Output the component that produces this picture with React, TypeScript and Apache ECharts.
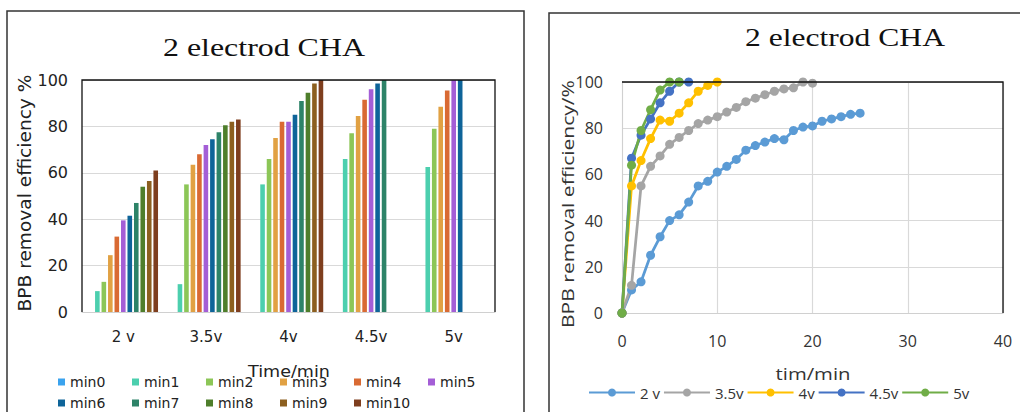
import React, { useEffect, useRef } from "react";
import * as echarts from "echarts";

// ---------- Left chart data (bar) ----------
const barCategories = ["2 v", "3.5v", "4v", "4.5v", "5v"];
const barSeriesNames = ["min0", "min1", "min2", "min3", "min4", "min5", "min6", "min7", "min8", "min9", "min10"];
const min0 = [null, null, null, null, null];
const min1 = [9, 12, 55, 66, 62.5];
const min2 = [13, 55, 66, 77, 79];
const min3 = [24.5, 63.5, 75, 84.5, 88.5];
const min4 = [32.5, 68, 82, 91.5, 95.5];
const min5 = [39.5, 72, 82, 96, 100];
const min6 = [41.5, 74.5, 85, 98.5, 100];
const min7 = [47, 77.5, 91, 100, null];
const min8 = [54, 80.5, 94.5, null, null];
const min9 = [56.5, 82, 98.5, null, null];
const min10 = [61, 83, 100, null, null];
const barValues = [min0, min1, min2, min3, min4, min5, min6, min7, min8, min9, min10];
const barColors = ["#3AA3EE", "#4CCFAE", "#8CC657", "#E1A143", "#D96A33", "#A45ED6", "#0E6499", "#2D8368", "#4E7E2B", "#8C5F1F", "#7E3E1E"];
const barYTicks = { min: 0, max: 100, interval: 20 };

// ---------- Right chart data (line) ----------
const lineNames = ["2 v", "3.5v", "4v", "4.5v", "5v"];
const lineColors = ["#5B9BD5", "#A5A5A5", "#FFC000", "#4472C4", "#70AD47"];
const time2v = [0, 1, 2, 3, 4, 5, 6, 7, 8, 9, 10, 11, 12, 13, 14, 15, 16, 17, 18, 19, 20, 21, 22, 23, 24, 25];
const eff2v = [0, 10, 13.5, 25, 33, 40, 42.5, 48, 55, 57, 61, 63.5, 66.5, 70.5, 72.5, 74, 75.5, 75, 79, 80.5, 81, 83, 84, 85, 86, 86.5];
const time35v = [0, 1, 2, 3, 4, 5, 6, 7, 8, 9, 10, 11, 12, 13, 14, 15, 16, 17, 18, 19, 20];
const eff35v = [0, 12, 55, 63.5, 68, 73, 76, 79, 82, 83.5, 85, 87, 89, 91.5, 93, 94.5, 96, 97, 97.5, 100, 99.5];
const time4v = [0, 1, 2, 3, 4, 5, 6, 7, 8, 9, 10];
const eff4v = [0, 55, 66, 75.5, 83.5, 83, 86.5, 91, 96, 98.5, 100];
const time45v = [0, 1, 2, 3, 4, 5, 6, 7];
const eff45v = [0, 67, 77, 84, 91, 96, 100, 100];
const time5v = [0, 1, 2, 3, 4, 5, 6];
const eff5v = [0, 64, 79, 88, 96.5, 100, 100];
const lineTimes = [time2v, time35v, time4v, time45v, time5v];
const lineEffs = [eff2v, eff35v, eff4v, eff45v, eff5v];
const lineXTicks = { min: 0, max: 40, interval: 10 };
const lineYTicks = { min: 0, max: 100, interval: 20 };

// ---------- Texts ----------
const titleText = "2 electrod CHA";
const leftYName = "BPB removal efficiency %";
const leftXName = "Time/min";
const rightYName = "BPB removal efficiency/%";
const rightXName = "tim/min";

const LEFT_FONT = "DejaVu Sans";
const RIGHT_FONT = "Open Sans";
const SERIF = "Liberation Serif";

// layout
const LG = { left: 82, top: 80, width: 413, height: 232 };
const RG = { left: 622, top: 82, width: 381, height: 231 };

function measure(text: string, fontSize: number, fontFamily: string): number {
  const t = new (echarts.graphic as any).Text({ style: { text, fontSize, fontFamily } });
  return t.getBoundingRect().width;
}

function fitText(text: string, fontSize: number, fontFamily: string, cx: number, cy: number, targetW: number, rotation = 0, fill = "#222") {
  const w = measure(text, fontSize, fontFamily);
  const sx = w > 0 ? targetW / w : 1;
  return {
    type: "text",
    x: cx,
    y: cy,
    rotation,
    scaleX: sx,
    z: 10,
    style: { text, fontSize, fontFamily, fill, align: "center", verticalAlign: "middle" },
  };
}

export default function App() {
  const ref = useRef<HTMLDivElement>(null);

  useEffect(() => {
    if (!ref.current) return;
    const chart = echarts.init(ref.current, undefined, { renderer: "svg" });

    const barSeries = barValues.map((vals, i) => ({
      type: "bar",
      name: barSeriesNames[i],
      xAxisIndex: 0,
      yAxisIndex: 0,
      data: vals,
      barWidth: 4.6,
      barGap: "41%",
      itemStyle: { color: barColors[i] },
    }));

    const lineSeries = lineNames.map((name, i) => ({
      type: "line",
      name,
      xAxisIndex: 1,
      yAxisIndex: 1,
      data: lineTimes[i].map((t, j) => [t, lineEffs[i][j]]),
      symbol: "circle",
      symbolSize: 9,
      lineStyle: { width: 2.75, color: lineColors[i] },
      itemStyle: { color: lineColors[i] },
    }));

    const option: any = {
      animation: false,
      backgroundColor: "#ffffff",
      grid: [
        { ...LG, containLabel: false },
        { ...RG, containLabel: false },
      ],
      xAxis: [
        {
          type: "category",
          gridIndex: 0,
          data: barCategories,
          axisTick: { show: false },
          axisLine: { lineStyle: { color: "#d0d0d0", width: 1 } },
          axisLabel: { fontFamily: LEFT_FONT, fontSize: 15, color: "#222", margin: 17 },
        },
        {
          type: "value",
          gridIndex: 1,
          ...lineXTicks,
          axisTick: { show: false },
          axisLine: { show: true, lineStyle: { color: "#d0d0d0", width: 1 } },
          splitLine: { show: true, lineStyle: { color: "#d9d9d9", width: 1.2 } },
          axisLabel: { fontFamily: RIGHT_FONT, fontSize: 16, color: "#333", margin: 20 },
        },
      ],
      yAxis: [
        {
          type: "value",
          gridIndex: 0,
          ...barYTicks,
          axisTick: { show: false },
          axisLine: { show: false },
          splitLine: { show: true, lineStyle: { color: "#d9d9d9", width: 1.2 } },
          axisLabel: { fontFamily: LEFT_FONT, fontSize: 16, color: "#222", margin: 14 },
        },
        {
          type: "value",
          gridIndex: 1,
          ...lineYTicks,
          axisTick: { show: false },
          axisLine: { show: true, lineStyle: { color: "#d0d0d0", width: 1 } },
          splitLine: { show: true, lineStyle: { color: "#d9d9d9", width: 1.2 } },
          axisLabel: { fontFamily: RIGHT_FONT, fontSize: 16, color: "#333", margin: 19 },
        },
      ],
      legend: [
        {
          data: barSeriesNames,
          left: 53,
          top: 369,
          width: 450,
          orient: "horizontal",
          icon: "rect",
          itemWidth: 7,
          itemHeight: 7,
          itemGap: 5,
          textStyle: { fontFamily: LEFT_FONT, fontSize: 14, color: "#222", width: 57, lineHeight: 16 },
        },
        {
          data: lineNames,
          left: 583,
          top: 380,
          orient: "horizontal",
          itemWidth: 46,
          itemHeight: 10,
          itemGap: 3,
          textStyle: { fontFamily: RIGHT_FONT, fontSize: 15, color: "#333" },
        },
      ],
      graphic: [
        { type: "rect", z: 0, shape: { x: 7, y: 11, width: 517, height: 430 }, style: { fill: "none", stroke: "#333", lineWidth: 1.5 } },
        { type: "rect", z: 0, shape: { x: 549, y: 13, width: 520, height: 430 }, style: { fill: "none", stroke: "#333", lineWidth: 1.5 } },
        {
          type: "polyline",
          z: 5,
          shape: { points: [[LG.left, LG.top + LG.height], [LG.left, LG.top], [LG.left + LG.width, LG.top], [LG.left + LG.width, LG.top + LG.height]] },
          style: { fill: "none", stroke: "#111", lineWidth: 1.3 },
        },
        {
          type: "polyline",
          z: 5,
          shape: { points: [[RG.left, RG.top], [RG.left + RG.width, RG.top], [RG.left + RG.width, RG.top + RG.height]] },
          style: { fill: "none", stroke: "#111", lineWidth: 1.3 },
        },
        fitText(titleText, 26, SERIF, 264, 47, 202, 0, "#111"),
        fitText(titleText, 26, SERIF, 845, 37, 200, 0, "#111"),
        fitText(leftYName, 17, LEFT_FONT, 25, 193, 237, Math.PI / 2, "#222"),
        fitText(leftXName, 16, LEFT_FONT, 289, 371, 82, 0, "#222"),
        fitText(rightYName, 17, RIGHT_FONT, 568, 204, 248, Math.PI / 2, "#333"),
        fitText(rightXName, 17, RIGHT_FONT, 813, 373, 75, 0, "#333"),
      ],
      series: [...barSeries, ...lineSeries],
    };

    chart.setOption(option);
    return () => chart.dispose();
  }, []);

  return (
    <div
      ref={ref}
      style={{ position: "fixed", left: 0, top: 0, width: 1020, height: 412, background: "#fff" }}
    />
  );
}
